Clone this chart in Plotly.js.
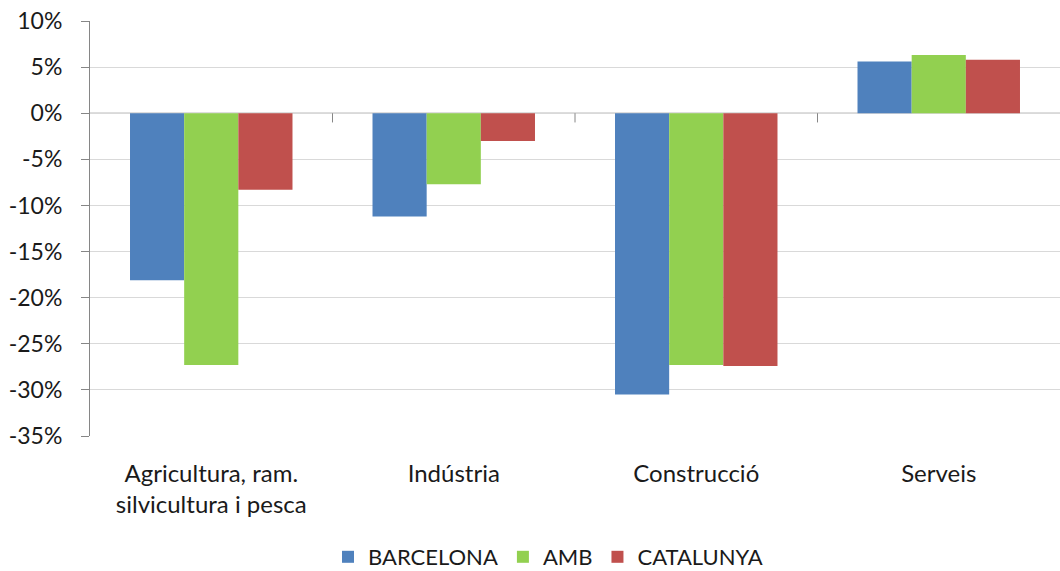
<!DOCTYPE html>
<html>
<head>
<meta charset="utf-8">
<script src="https://cdn.plot.ly/plotly-3.0.1.min.js"></script>
<style>html,body{margin:0;padding:0;background:#fff;}#chart{width:1060px;height:571px;}</style>
</head>
<body>
<div id="chart"></div>
<script>
const categories = ["Agricultura, ram.<br>silvicultura i pesca", "Indústria", "Construcció", "Serveis"];
const barcelona = [-18.1, -11.2, -30.5, 5.6];
const amb = [-27.3, -7.7, -27.3, 6.3];
const catalunya = [-8.3, -3.0, -27.4, 5.8];
const seriesNames = ["BARCELONA", "AMB", "CATALUNYA"];
const colors = ["#4F81BD", "#92D050", "#C0504D"];
const yTicks = [10, 5, 0, -5, -10, -15, -20, -25, -30, -35];
const yTickText = yTicks.map(v => v + "%");

const idx = categories.map((_, i) => i);
const data = [barcelona, amb, catalunya].map((vals, k) => ({
  type: "bar",
  name: seriesNames[k],
  x: idx,
  y: vals,
  marker: {color: colors[k], line: {color: colors[k], width: 0}},
  hoverinfo: "y"
}));

const shapes = [];
for (let i = 0; i < categories.length - 1; i++) {
  shapes.push({type: "line", xref: "x", yref: "y", x0: i + 0.5, x1: i + 0.5, y0: 0, y1: -1, line: {color: "#868686", width: 1}});
}
shapes.push({type: "line", xref: "paper", yref: "y", x0: 0, x1: 1, y0: 0, y1: 0, line: {color: "#868686", width: 1}, layer: "below"});

const layout = {
  width: 1060, height: 571,
  margin: {l: 90, r: 0, t: 21, b: 135},
  paper_bgcolor: "#fff", plot_bgcolor: "#fff",
  font: {family: "Lato, Open Sans, sans-serif", size: 22, color: "#1a1a1a"},
  barmode: "group",
  bargap: 0.33,
  bargroupgap: 0,
  showlegend: true,
  legend: {orientation: "h", xref: "container", yref: "container", x: 0.517, xanchor: "center", y: 14/571, yanchor: "middle", font: {size: 22}, traceorder: "normal", itemwidth: 30},
  xaxis: {
    tickvals: idx, ticktext: categories,
    range: [-0.5, 3.5],
    automargin: false,
    showgrid: false, zeroline: false, showline: false, ticks: "",
    ticklabelstandoff: 21,
    tickfont: {size: 24}, fixedrange: true
  },
  yaxis: {
    range: [-35, 10],
    automargin: false,
    tickvals: yTicks, ticktext: yTickText,
    showgrid: true, gridcolor: "#D9D9D9", gridwidth: 1,
    zeroline: false,
    showline: true, linecolor: "#868686", linewidth: 1,
    ticks: "outside", ticklen: 8, tickcolor: "#868686",
    ticklabelstandoff: 14,
    tickfont: {size: 23}, fixedrange: true
  },
  shapes: shapes
};

Plotly.newPlot("chart", data, layout, {displayModeBar: false, staticPlot: true});
</script>
</body>
</html>
